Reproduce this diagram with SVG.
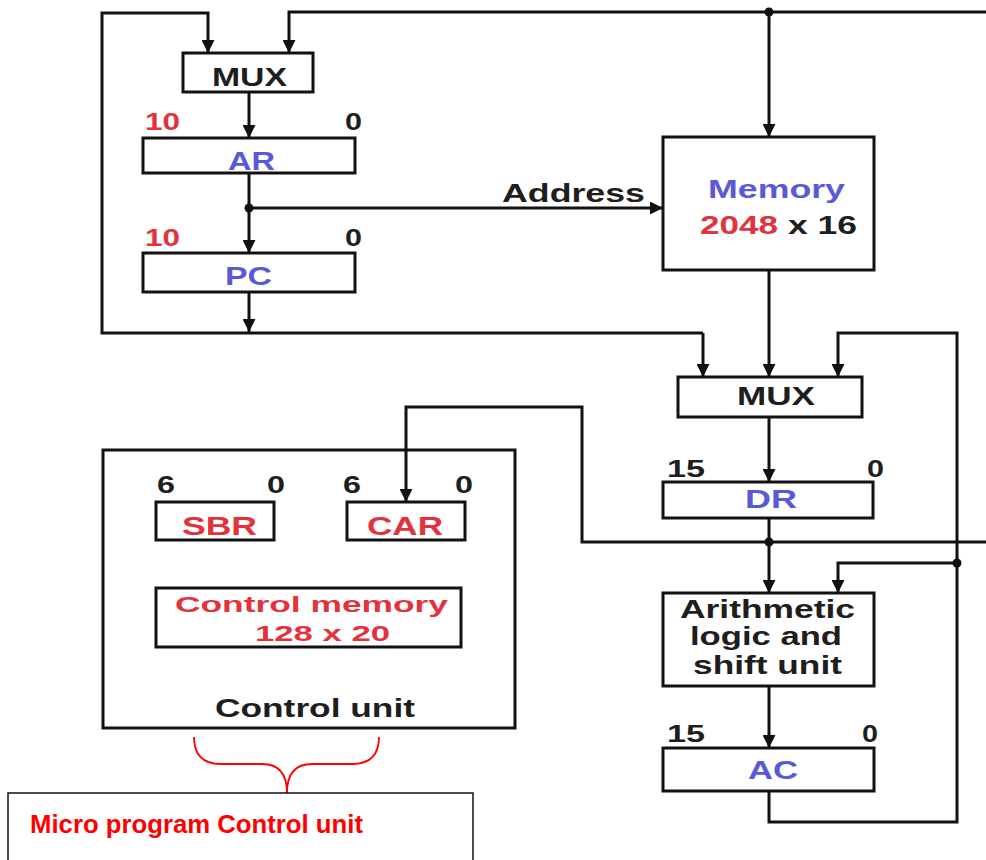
<svg xmlns="http://www.w3.org/2000/svg" width="986" height="860" viewBox="0 0 986 860">
<style>
.box{fill:#fff;stroke:#111;stroke-width:3}
.w{fill:none;stroke:#111;stroke-width:3;stroke-linejoin:miter}
.t{font-family:"Liberation Sans",Arial,sans-serif;font-weight:bold;font-size:26px;fill:#1e1e1e}
.n{font-family:"Liberation Sans",Arial,sans-serif;font-weight:bold;font-size:24px;fill:#1e1e1e}
.cm{font-size:22px}
.red{fill:#e3323c}
.blue{fill:#5a5ad8}
.dot{fill:#111}
</style>
<defs>
<marker id="ah" viewBox="0 0 10 10" refX="10" refY="5" markerWidth="13" markerHeight="13" markerUnits="userSpaceOnUse" orient="auto">
<path d="M0,0 L10,5 L0,10 z" fill="#111"/>
</marker>
</defs>
<rect width="986" height="860" fill="#fff"/>

<g id="mux1">
<rect class="box" x="183" y="53" width="130" height="39"/>
<text class="t" x="212" y="86" textLength="75" lengthAdjust="spacingAndGlyphs">MUX</text>
</g>

<g id="ar">
<text class="n red" x="145" y="130" textLength="35" lengthAdjust="spacingAndGlyphs">10</text>
<text class="n" x="345" y="130" textLength="17" lengthAdjust="spacingAndGlyphs">0</text>
<rect class="box" x="143" y="138" width="212" height="35"/>
<text class="t blue" x="228" y="170" textLength="47" lengthAdjust="spacingAndGlyphs">AR</text>
</g>

<g id="pc">
<text class="n red" x="145" y="246" textLength="35" lengthAdjust="spacingAndGlyphs">10</text>
<text class="n" x="345" y="246" textLength="17" lengthAdjust="spacingAndGlyphs">0</text>
<rect class="box" x="143" y="253" width="212" height="39"/>
<text class="t blue" x="225" y="285" textLength="47" lengthAdjust="spacingAndGlyphs">PC</text>
</g>

<g id="address-label">
<text class="t" x="502" y="202" textLength="143" lengthAdjust="spacingAndGlyphs">Address</text>
</g>

<g id="memory">
<rect class="box" x="663" y="137" width="211" height="133"/>
<text class="t blue" x="708" y="198" textLength="137" lengthAdjust="spacingAndGlyphs">Memory</text>
<text class="t red" x="700" y="234" textLength="78" lengthAdjust="spacingAndGlyphs">2048</text>
<text class="t" x="788" y="234" textLength="69" lengthAdjust="spacingAndGlyphs">x 16</text>
</g>

<g id="mux2">
<rect class="box" x="678" y="377" width="184" height="40"/>
<text class="t" x="737" y="405" textLength="78" lengthAdjust="spacingAndGlyphs">MUX</text>
</g>

<g id="dr">
<text class="n" x="667" y="477" textLength="38" lengthAdjust="spacingAndGlyphs">15</text>
<text class="n" x="867" y="477" textLength="17" lengthAdjust="spacingAndGlyphs">0</text>
<rect class="box" x="663" y="482" width="210" height="36"/>
<text class="t blue" x="745" y="508" textLength="52" lengthAdjust="spacingAndGlyphs">DR</text>
</g>

<g id="alu">
<rect class="box" x="663" y="593" width="211" height="93"/>
<text class="t" x="680" y="618" textLength="175" lengthAdjust="spacingAndGlyphs">Arithmetic</text>
<text class="t" x="690" y="645" textLength="152" lengthAdjust="spacingAndGlyphs">logic and</text>
<text class="t" x="693" y="674" textLength="149" lengthAdjust="spacingAndGlyphs">shift unit</text>
</g>

<g id="ac">
<text class="n" x="667" y="742" textLength="38" lengthAdjust="spacingAndGlyphs">15</text>
<text class="n" x="862" y="742" textLength="16" lengthAdjust="spacingAndGlyphs">0</text>
<rect class="box" x="663" y="748" width="211" height="43"/>
<text class="t blue" x="748" y="779" textLength="50" lengthAdjust="spacingAndGlyphs">AC</text>
</g>

<g id="control-unit">
<rect class="box" x="103" y="450" width="412" height="278"/>
<text class="t" x="215" y="717" textLength="200" lengthAdjust="spacingAndGlyphs">Control unit</text>
</g>

<g id="sbr">
<text class="n" x="157" y="493" textLength="18" lengthAdjust="spacingAndGlyphs">6</text>
<text class="n" x="267" y="493" textLength="18" lengthAdjust="spacingAndGlyphs">0</text>
<rect class="box" x="156" y="502" width="118" height="38"/>
<text class="t red" x="182" y="535" textLength="75" lengthAdjust="spacingAndGlyphs">SBR</text>
</g>

<g id="car">
<text class="n" x="343" y="493" textLength="18" lengthAdjust="spacingAndGlyphs">6</text>
<text class="n" x="455" y="493" textLength="18" lengthAdjust="spacingAndGlyphs">0</text>
<rect class="box" x="347" y="502" width="118" height="38"/>
<text class="t red" x="367" y="535" textLength="76" lengthAdjust="spacingAndGlyphs">CAR</text>
</g>

<g id="control-memory">
<rect class="box" x="156" y="588" width="305" height="59"/>
<text class="t cm red" x="175" y="612" textLength="273" lengthAdjust="spacingAndGlyphs">Control memory</text>
<text class="t cm red" x="255" y="641" textLength="135" lengthAdjust="spacingAndGlyphs">128 x 20</text>
</g>

<g id="brace">
<path d="M194,737 Q194,764 221,764 L262,764 Q287,764 287,793 M379,737 Q379,764 352,764 L312,764 Q287,764 287,793" fill="none" stroke="#ff0000" stroke-width="1.8"/>
</g>

<g id="micro-label">
<path d="M8,862 L8,793 L473,793 L473,862" fill="none" stroke="#111" stroke-width="1.5"/>
<text x="30" y="833" font-family="'Liberation Sans',Arial,sans-serif" font-weight="bold" font-size="26" fill="#ff0000" textLength="333" lengthAdjust="spacingAndGlyphs">Micro program Control unit</text>
</g>

<g id="connectors">
<path class="w" d="M703,333 L102,333 L102,13 L208,13 L208,53" marker-end="url(#ah)"/>
<path class="w" d="M986,12 L289,12 L289,53" marker-end="url(#ah)"/>
<path class="w" d="M769,12 L769,137" marker-end="url(#ah)"/>
<path class="w" d="M249,92 L249,138" marker-end="url(#ah)"/>
<path class="w" d="M249,173 L249,253" marker-end="url(#ah)"/>
<path class="w" d="M249,208 L663,208" marker-end="url(#ah)"/>
<path class="w" d="M249,292 L249,332" marker-end="url(#ah)"/>
<path class="w" d="M703,333 L703,377" marker-end="url(#ah)"/>
<path class="w" d="M769,270 L769,377" marker-end="url(#ah)"/>
<path class="w" d="M769,791 L769,822 L957,822 L957,333 L838,333 L838,377" marker-end="url(#ah)"/>
<path class="w" d="M769,417 L769,482" marker-end="url(#ah)"/>
<path class="w" d="M769,518 L769,593" marker-end="url(#ah)"/>
<path class="w" d="M986,542 L582,542 L582,407 L406,407 L406,502" marker-end="url(#ah)"/>
<path class="w" d="M957,563 L838,563 L838,593" marker-end="url(#ah)"/>
<path class="w" d="M769,686 L769,748" marker-end="url(#ah)"/>
<circle class="dot" cx="769" cy="12" r="4.5"/>
<circle class="dot" cx="249" cy="208" r="4.5"/>
<circle class="dot" cx="769" cy="542" r="4.5"/>
<circle class="dot" cx="957" cy="563" r="4.5"/>
</g>
</svg>
